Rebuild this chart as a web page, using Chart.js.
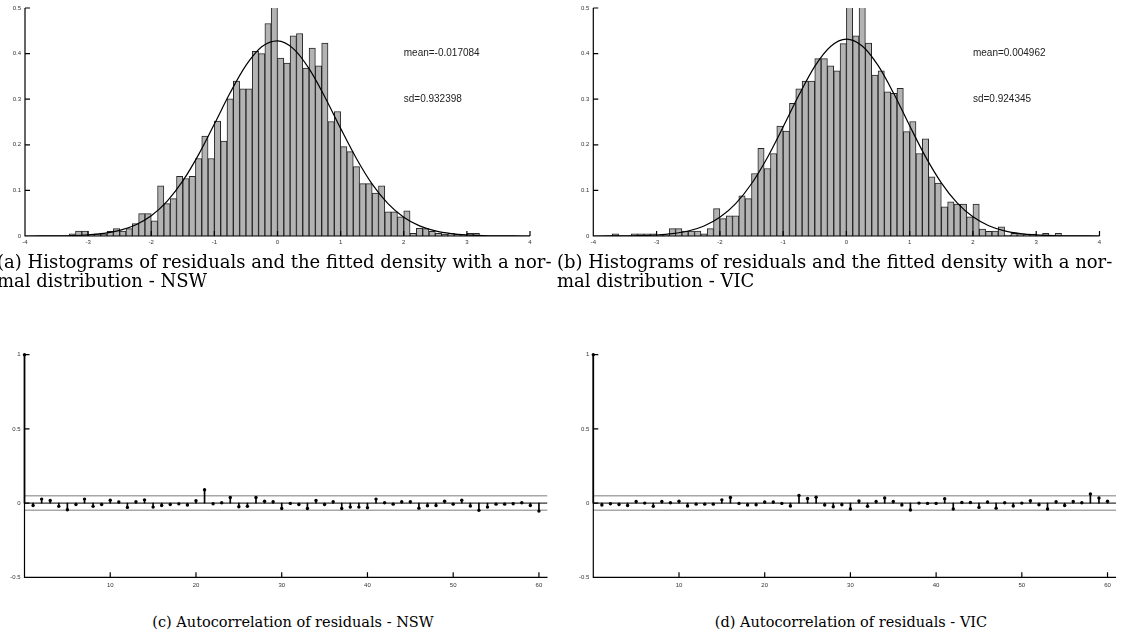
<!DOCTYPE html>
<html lang="en">
<head>
<meta charset="UTF-8">
<title>Residual diagnostics - NSW / VIC</title>
<script src="https://cdn.jsdelivr.net/npm/chart.js"></script>
<style>
    body { margin: 0; width: 1121px; height: 642px; position: relative; overflow: hidden; background: #fff; }
    canvas { position: absolute; }
    .cap { position: absolute; font-family: "DejaVu Serif", serif; color: #000; white-space: nowrap; }
    .top { font-size: 18px; line-height: 19px; }
    .bot { font-size: 14.5px; line-height: 18px; text-align: center; }
</style>
</head>
<body>
<canvas id="histNSW" width="560" height="255" style="left:0;top:0"></canvas>
<canvas id="histVIC" width="553" height="255" style="left:568px;top:0"></canvas>
<canvas id="acfNSW" width="560" height="262" style="left:0;top:340px"></canvas>
<canvas id="acfVIC" width="553" height="262" style="left:568px;top:340px"></canvas>

<div class="cap top" style="left:-3px;top:252px">(a) Histograms of residuals and the fitted density with a nor-</div>
<div class="cap top" style="left:-3px;top:271px">mal distribution - NSW</div>
<div class="cap top" style="left:557px;top:252px">(b) Histograms of residuals and the fitted density with a nor-</div>
<div class="cap top" style="left:557px;top:271px">mal distribution - VIC</div>
<div class="cap bot" style="left:93px;width:400px;top:613px">(c) Autocorrelation of residuals - NSW</div>
<div class="cap bot" style="left:651px;width:400px;top:613px">(d) Autocorrelation of residuals - VIC</div>

<script>
// histogram bins (centre of each 0.1 wide bin) and density heights
const nswBins = [-3.25, -3.15, -3.05, -2.95, -2.85, -2.75, -2.65, -2.55, -2.45, -2.35, -2.25, -2.15, -2.05,
    -1.95, -1.85, -1.75, -1.65, -1.55, -1.45, -1.35, -1.25, -1.15, -1.05, -0.95, -0.85, -0.75, -0.65, -0.55,
    -0.45, -0.35, -0.25, -0.15, -0.05, 0.05, 0.15, 0.25, 0.35, 0.45, 0.55, 0.65, 0.75, 0.85, 0.95, 1.05, 1.15,
    1.25, 1.35, 1.45, 1.55, 1.65, 1.75, 1.85, 1.95, 2.05, 2.15, 2.25, 2.35, 2.45, 2.55, 2.65, 2.75, 2.85, 2.95,
    3.05, 3.15];
const nswDensity = [0.005, 0.011, 0.011, 0.003, 0.005, 0.005, 0.010, 0.016, 0.011, 0.016, 0.027, 0.049, 0.049,
    0.033, 0.110, 0.071, 0.082, 0.131, 0.126, 0.131, 0.170, 0.219, 0.170, 0.252, 0.208, 0.301, 0.340, 0.323,
    0.323, 0.405, 0.400, 0.466, 0.530, 0.390, 0.379, 0.439, 0.444, 0.368, 0.412, 0.373, 0.423, 0.251, 0.273,
    0.196, 0.185, 0.152, 0.115, 0.115, 0.094, 0.110, 0.053, 0.053, 0.042, 0.055, 0.006, 0.017, 0.016, 0.010,
    0.006, 0.004, 0.006, 0.004, 0.002, 0.006, 0.006];

const vicBins = [-3.65, -3.35, -3.25, -3.15, -3.05, -2.95, -2.85, -2.75, -2.65, -2.55, -2.45, -2.35, -2.25,
    -2.15, -2.05, -1.95, -1.85, -1.75, -1.65, -1.55, -1.45, -1.35, -1.25, -1.15, -1.05, -0.95, -0.85, -0.75,
    -0.65, -0.55, -0.45, -0.35, -0.25, -0.15, -0.05, 0.05, 0.15, 0.25, 0.35, 0.45, 0.55, 0.65, 0.75, 0.85,
    0.95, 1.05, 1.15, 1.25, 1.35, 1.45, 1.55, 1.65, 1.75, 1.85, 1.95, 2.05, 2.15, 2.25, 2.35, 2.45, 2.55,
    2.65, 2.75, 2.85, 2.95, 3.05, 3.15, 3.25, 3.35];
const vicDensity = [0.005, 0.005, 0.005, 0.005, 0.005, 0.002, 0.002, 0.016, 0.016, 0.011, 0.011, 0.011, 0.005,
    0.016, 0.060, 0.038, 0.044, 0.044, 0.088, 0.082, 0.137, 0.192, 0.148, 0.181, 0.241, 0.230, 0.291, 0.323,
    0.340, 0.340, 0.389, 0.389, 0.373, 0.362, 0.422, 0.530, 0.439, 0.530, 0.423, 0.353, 0.362, 0.316, 0.313,
    0.324, 0.229, 0.251, 0.181, 0.213, 0.130, 0.116, 0.064, 0.075, 0.070, 0.070, 0.042, 0.070, 0.015, 0.010,
    0.011, 0.020, 0.002, 0.006, 0.003, 0.004, 0.004, 0.002, 0.006, 0.002, 0.006];

// fitted normal density
const curveX = [-4, -3.75, -3.5, -3.25, -3, -2.75, -2.5, -2.25, -2, -1.75, -1.5, -1.25, -1, -0.75, -0.5, -0.25,
    0, 0.25, 0.5, 0.75, 1, 1.25, 1.5, 1.75, 2, 2.25, 2.5, 2.75, 3, 3.25, 3.5, 3.75, 4];
const nswCurve = [0, 0.0001, 0.0004, 0.0010, 0.0026, 0.0058, 0.0123, 0.0243, 0.0445, 0.0760, 0.1207, 0.1784,
    0.2454, 0.3140, 0.3740, 0.4150, 0.4279, 0.4110, 0.3670, 0.3050, 0.2360, 0.1700, 0.1137, 0.0710, 0.0411,
    0.0222, 0.0112, 0.0052, 0.0023, 0.0009, 0.0003, 0.0001, 0];
const vicCurve = [0, 0.0001, 0.0003, 0.0009, 0.0022, 0.0051, 0.0109, 0.0220, 0.0410, 0.0711, 0.1146, 0.1717,
    0.2390, 0.3090, 0.3720, 0.4156, 0.4317, 0.4168, 0.3740, 0.3120, 0.2418, 0.1740, 0.1166, 0.0726, 0.0420,
    0.0226, 0.0113, 0.0052, 0.0023, 0.0009, 0.0003, 0.0001, 0];

const nswStats = ['mean=-0.017084', 'sd=0.932398'];
const vicStats = ['mean=0.004962', 'sd=0.924345'];

// autocorrelation of residuals
const lags = [0, 1, 2, 3, 4, 5, 6, 7, 8, 9, 10, 11, 12, 13, 14, 15, 16, 17, 18, 19, 20, 21, 22, 23, 24, 25, 26,
    27, 28, 29, 30, 31, 32, 33, 34, 35, 36, 37, 38, 39, 40, 41, 42, 43, 44, 45, 46, 47, 48, 49, 50, 51, 52, 53,
    54, 55, 56, 57, 58, 59, 60];
const nswAcf = [1, -0.016, 0.027, 0.018, -0.022, -0.045, -0.009, 0.027, -0.022, -0.009, 0.020, 0.007, -0.029,
    0.009, 0.022, -0.027, -0.016, -0.009, -0.005, -0.013, 0.016, 0.090, -0.004, 0.002, 0.038, -0.025, -0.022,
    0.038, 0.013, 0.009, -0.036, -0.002, -0.009, -0.036, 0.018, -0.009, 0.009, -0.036, -0.027, -0.027, -0.031,
    0.027, 0.002, -0.007, 0.009, 0.009, -0.034, -0.018, -0.016, 0.013, -0.007, 0.020, -0.020, -0.049, -0.027,
    -0.007, -0.007, -0.004, 0.002, -0.016, -0.054];
const vicAcf = [1, -0.013, -0.004, -0.009, -0.016, 0.011, 0.000, -0.022, 0.011, 0.002, 0.013, -0.020, -0.007,
    -0.007, -0.007, 0.022, 0.038, -0.002, -0.013, -0.011, 0.007, 0.007, -0.002, -0.020, 0.052, 0.031, 0.040,
    -0.013, -0.025, -0.011, -0.040, 0.014, -0.022, 0.011, 0.034, 0.011, -0.013, -0.047, 0.000, -0.002, -0.002,
    0.029, -0.040, 0.004, 0.004, -0.029, 0.007, -0.034, 0.002, -0.020, 0.000, 0.016, -0.011, -0.040, 0.009,
    -0.016, 0.011, 0.002, 0.061, 0.034, 0.013];
const acfBound = 0.049;
const lagMax = 61;
const lagTicks = [10, 20, 30, 40, 50, 60];

// axes drawn matlab style: left + bottom line, ticks pointing inwards
const inwardAxes = {
    id: 'inwardAxes',
    afterDatasetsDraw(chart) {
        const { ctx, chartArea: a, scales: { x, y } } = chart;
        ctx.save();
        ctx.strokeStyle = '#000';
        ctx.lineWidth = 1.2;
        ctx.beginPath();
        ctx.moveTo(a.left, a.top);
        ctx.lineTo(a.left, a.bottom);
        ctx.lineTo(a.right, a.bottom);
        x.ticks.forEach(t => {
            const px = x.getPixelForValue(t.value);
            ctx.moveTo(px, a.bottom);
            ctx.lineTo(px, a.bottom - 5);
        });
        y.ticks.forEach(t => {
            const py = y.getPixelForValue(t.value);
            ctx.moveTo(a.left, py);
            ctx.lineTo(a.left + 5, py);
        });
        ctx.stroke();
        ctx.restore();
    }
};

const statText = {
    id: 'statText',
    afterDraw(chart, args, opts) {
        if (!opts.lines) return;
        const { ctx, scales: { x, y } } = chart;
        ctx.save();
        ctx.font = '10px "Liberation Sans", Arial, sans-serif';
        ctx.fillStyle = '#222';
        ctx.textBaseline = 'middle';
        opts.lines.forEach(l => ctx.fillText(l.text, x.getPixelForValue(l.x), y.getPixelForValue(l.y)));
        ctx.restore();
    }
};

const tickFont = { size: 6, family: '"Liberation Sans", Arial, sans-serif' };

function axis(min, max, step, pad, fitFn, extra) {
    return Object.assign({
        type: 'linear', min: min, max: max, offset: false,
        ticks: {
            stepSize: step, font: tickFont, color: '#333', padding: pad, maxRotation: 0, autoSkip: false,
            callback: v => String(+v.toFixed(3))
        },
        grid: { display: false, drawTicks: false, offset: false },
        border: { display: false },
        afterFit: fitFn
    }, extra || {});
}

function histChart(id, bins, dens, curve, stats, yw, pad) {
    new Chart(document.getElementById(id), {
        type: 'line',
        data: {
            datasets: [
                {
                    type: 'bar',
                    data: bins.map((b, i) => ({ x: b, y: dens[i] })),
                    backgroundColor: '#b3b3b3',
                    borderColor: '#262626',
                    borderWidth: 1,
                    barPercentage: 1,
                    categoryPercentage: 1,
                    clip: 0,
                    order: 1
                },
                {
                    type: 'line',
                    data: curveX.map((c, i) => ({ x: c, y: curve[i] })),
                    borderColor: '#000',
                    borderWidth: 1.2,
                    pointRadius: 0,
                    cubicInterpolationMode: 'monotone',
                    order: 0
                }
            ]
        },
        options: {
            responsive: false,
            animation: false,
            layout: { padding: pad },
            plugins: {
                legend: { display: false },
                tooltip: { enabled: false },
                statText: { lines: [{ x: 2, y: 0.4, text: stats[0] }, { x: 2, y: 0.3, text: stats[1] }] }
            },
            scales: {
                x: axis(-4, 4, 1, 3, s => { s.height = 19; }),
                y: axis(0, 0.5, 0.1, 4, s => { s.width = yw; })
            }
        },
        plugins: [inwardAxes, statText]
    });
}

function acfChart(id, acf, yw, xh, pad) {
    new Chart(document.getElementById(id), {
        type: 'line',
        data: {
            datasets: [
                {
                    type: 'line', data: [{ x: 0, y: acfBound }, { x: lagMax, y: acfBound }],
                    borderColor: '#a8a8a8', borderWidth: 1.5, pointRadius: 0, order: 4
                },
                {
                    type: 'line', data: [{ x: 0, y: -acfBound }, { x: lagMax, y: -acfBound }],
                    borderColor: '#a8a8a8', borderWidth: 1.5, pointRadius: 0, order: 4
                },
                {
                    type: 'line', data: [{ x: 0, y: 0 }, { x: lagMax, y: 0 }],
                    borderColor: '#000', borderWidth: 1, pointRadius: 0, order: 3
                },
                {
                    type: 'bar', data: lags.map((l, i) => ({ x: l, y: acf[i] })),
                    backgroundColor: '#000', barThickness: 1, borderWidth: 0, clip: false, order: 2
                },
                {
                    type: 'line', data: lags.map((l, i) => ({ x: l, y: acf[i] })),
                    showLine: false, pointRadius: 1.7, pointBackgroundColor: '#000', pointBorderWidth: 0,
                    clip: false, order: 1
                }
            ]
        },
        options: {
            responsive: false,
            animation: false,
            layout: { padding: pad },
            plugins: { legend: { display: false }, tooltip: { enabled: false } },
            scales: {
                x: axis(0, lagMax, 10, 4, s => { s.height = xh; }, {
                    afterBuildTicks: s => { s.ticks = lagTicks.map(v => ({ value: v })); }
                }),
                y: axis(-0.5, 1, 0.5, 4, s => { s.width = yw; })
            }
        },
        plugins: [inwardAxes]
    });
}

histChart('histNSW', nswBins, nswDensity, nswCurve, nswStats, 25, { top: 8, right: 30, left: 0, bottom: 0 });
histChart('histVIC', vicBins, vicDensity, vicCurve, vicStats, 25.3, { top: 8, right: 21.5, left: 0, bottom: 0 });
acfChart('acfNSW', nswAcf, 24.5, 24.7, { top: 14.7, right: 12.5, left: 0, bottom: 0 });
acfChart('acfVIC', vicAcf, 25.3, 24.7, { top: 14.7, right: 4.9, left: 0, bottom: 0 });
</script>
</body>
</html>
